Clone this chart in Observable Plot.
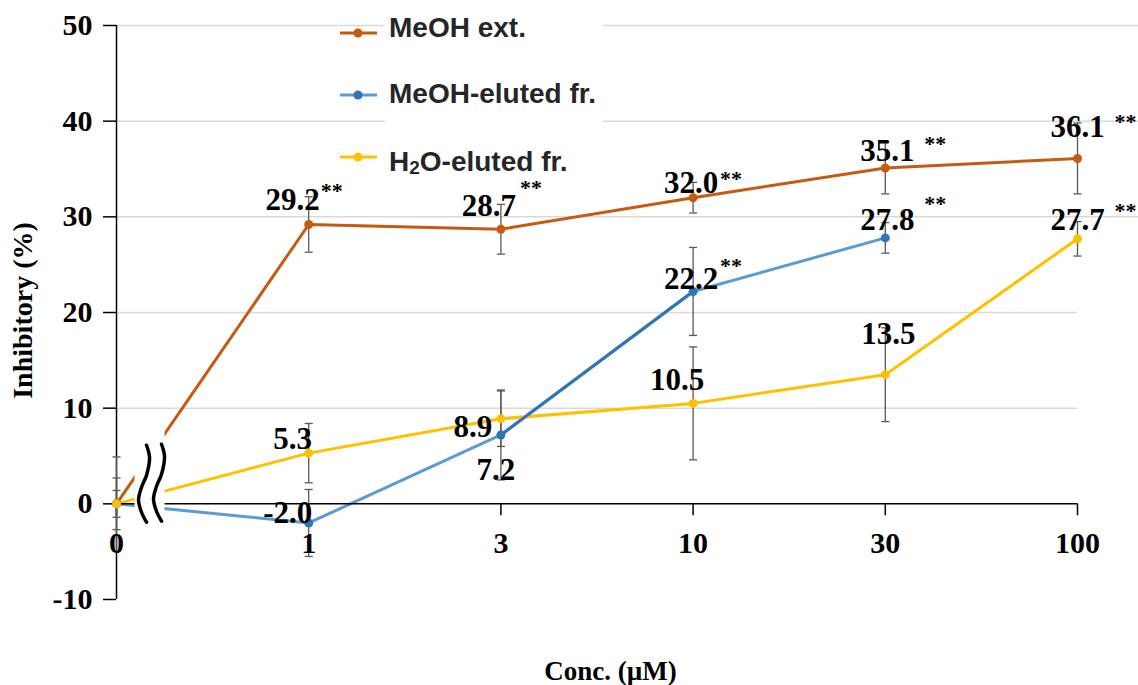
<!DOCTYPE html>
<html>
<head>
<meta charset="utf-8">
<script src="https://cdn.jsdelivr.net/npm/d3@7"></script>
<script src="https://cdn.jsdelivr.net/npm/@observablehq/plot@0.6"></script>
<style>
  body { margin: 0; background: #fff; }
  #wrap { position: relative; width: 1138px; height: 685px; overflow: hidden; background: #fff; }
  #wrap > svg { position: absolute; left: 0; top: 0; }
</style>
</head>
<body>
<div id="wrap"></div>
<script>
// ---------------- data ----------------
const concLabels = ["0", "1", "3", "10", "30", "100"];
const yTicks = [-10, 0, 10, 20, 30, 40, 50];
const seriesNames = ["MeOH ext.", "MeOH-eluted fr.", "H2O-eluted fr."];

const meohExt     = [0, 29.2, 28.7, 32.0, 35.1, 36.1];
const meohExtSD   = [4.9, 2.9, 2.6, 1.6, 2.7, 3.7];
const meohExtSig  = [false, true, true, true, true, true];

const meohElut    = [0, -2.0, 7.2, 22.2, 27.8];
const meohElutSD  = [1.4, 3.5, 4.7, 4.6, 1.6];
const meohElutSig = [false, false, false, true, true];

const h2oElut     = [0, 5.3, 8.9, 10.5, 13.5, 27.7];
const h2oElutSD   = [2.7, 3.1, 2.9, 5.9, 4.9, 1.8];
const h2oElutSig  = [false, false, false, false, false, true];

// ---------------- styles / label placement ----------------
const colors = {
  "MeOH ext.":       {line: "#C55A11", dot: "#C55A11"},
  "MeOH-eluted fr.": {line: "#5B9BD5", dot: "#2E75B6"},
  "H2O-eluted fr.":  {line: "#FFC000", dot: "#FFC000"}
};
const valueOffsets = {
  "MeOH ext.":       [null, [-16, -24], [-12, -23], [-2, -15], [2, -17], [0, -31]],
  "MeOH-eluted fr.": [null, [-21, -10], [-5, 35], [-2, -12], [2, -18]],
  "H2O-eluted fr.":  [null, [-16, -14], [-28, 8], [-16, -23], [3, -41], [0, -19]]
};
const starOffsets = {
  "MeOH ext.":       [null, [23, -34], [30, -41], [38, -19], [50, -24], [48, -37]],
  "MeOH-eluted fr.": [null, null, null, [38, -26], [50, -34]],
  "H2O-eluted fr.":  [null, null, null, null, null, [48, -28]]
};
const breakAt = {x: 0.19, y: 2.1};

// ---------------- build rows ----------------
const seriesData = [
  [seriesNames[0], meohExt, meohExtSD, meohExtSig],
  [seriesNames[1], meohElut, meohElutSD, meohElutSig],
  [seriesNames[2], h2oElut, h2oElutSD, h2oElutSig]
];
const rows = [];
for (const [series, vals, sds, sigs] of seriesData) {
  vals.forEach((v, i) => rows.push({series, i, value: v, sd: sds[i], sig: sigs[i]}));
}
const bySeries = s => rows.filter(d => d.series === s);

const serif = "'Liberation Serif', 'Times New Roman', serif";
const capHalf = 0.021;

// break symbol mark (drawn through the scales)
function breakMark(index, scales) {
  const cx = scales.x(breakAt.x), cy = scales.y(breakAt.y);
  const g = d3.create("svg:g");
  g.append("rect")
    .attr("x", cx - 18).attr("y", cy - 56)
    .attr("width", 30).attr("height", 100)
    .attr("fill", "white");
  const s1 = [[-6, -38], [-3, -26], [-6, -8], [-11, 4], [-14, 17], [-11, 29], [-6, 39]];
  const line = d3.line().curve(d3.curveCatmullRom);
  for (const off of [0, 15]) {
    g.append("path")
      .attr("d", line(s1.map(([dx, dy]) => [cx + dx + off, cy + dy - off / 15])))
      .attr("fill", "none").attr("stroke", "black")
      .attr("stroke-width", 3.5).attr("stroke-linecap", "round");
  }
  return g.node();
}

const marks = [
  // gridlines
  Plot.ruleY([30, 40, 50], {stroke: "#d9d9d9", strokeWidth: 1.5}),
  Plot.ruleY([10, 20], {x1: 0, x2: 5, stroke: "#d9d9d9", strokeWidth: 1.5}),
  // y axis
  Plot.axisY({ticks: yTicks, tickSize: 13, tickPadding: 11, tickFormat: d => String(d),
              fontSize: 30, fontWeight: "bold", fontFamily: serif, label: null,
              stroke: "black", strokeWidth: 1.5, fill: "black"}),
  Plot.ruleX([0], {stroke: "black", strokeWidth: 1.5}),
];

// series lines
for (const s of seriesNames) {
  marks.push(Plot.line(bySeries(s), {x: "i", y: "value", stroke: colors[s].line, strokeWidth: 3}));
}
// darker blue segment 3 -> 10
marks.push(Plot.line(bySeries(seriesNames[1]).filter(d => d.i === 2 || d.i === 3),
  {x: "i", y: "value", stroke: "#2E75B6", strokeWidth: 3}));

// zero line + x ticks
marks.push(Plot.ruleY([0], {x1: 0, x2: 5, stroke: "black", strokeWidth: 1.5}));
marks.push(Plot.ruleX(concLabels.map((d, i) => i), {x: d => d, y1: 0, y2: -1.25, stroke: "black", strokeWidth: 1.5}));

// axis break
marks.push(breakMark);

// error bars
marks.push(Plot.ruleX(rows, {x: "i", y1: d => d.value - d.sd, y2: d => d.value + d.sd, stroke: "#595959", strokeWidth: 1.3}));
marks.push(Plot.link(rows, {x1: d => d.i - capHalf, x2: d => d.i + capHalf, y1: d => d.value + d.sd, y2: d => d.value + d.sd, stroke: "#595959", strokeWidth: 1.3}));
marks.push(Plot.link(rows, {x1: d => d.i - capHalf, x2: d => d.i + capHalf, y1: d => d.value - d.sd, y2: d => d.value - d.sd, stroke: "#595959", strokeWidth: 1.3}));

// dots
for (const s of seriesNames) {
  marks.push(Plot.dot(bySeries(s), {x: "i", y: "value", r: 4.5, fill: colors[s].dot}));
}

// value labels and significance stars
for (const d of rows) {
  const vo = valueOffsets[d.series][d.i];
  if (vo) {
    marks.push(Plot.text([d], {x: "i", y: "value", text: r => r.value.toFixed(1),
      dx: vo[0], dy: vo[1], fontSize: 31, fontWeight: "bold", fontFamily: serif,
      fill: "black", lineAnchor: "middle"}));
  }
  const so = starOffsets[d.series][d.i];
  if (d.sig && so) {
    marks.push(Plot.text([d], {x: "i", y: "value", text: () => "**",
      dx: so[0], dy: so[1], fontSize: 22, fontWeight: "bold", fontFamily: serif,
      fill: "black", lineAnchor: "middle"}));
  }
}

// x tick labels
marks.push(Plot.text(concLabels, {x: (d, i) => i, y: () => 0, text: d => d, dy: 40,
  fontSize: 30, fontWeight: "bold", fontFamily: serif, fill: "black", lineAnchor: "middle"}));

// axis titles
marks.push(Plot.text(["Inhibitory (%)"], {frameAnchor: "left", textAnchor: "middle", dx: -93, dy: -2, rotate: -90,
  fontSize: 28, fontWeight: "bold", fontFamily: serif, fill: "black", lineAnchor: "middle"}));
marks.push(Plot.text(["Conc. (\u00B5M)"], {frameAnchor: "bottom", textAnchor: "middle", dx: -17, dy: 72,
  fontSize: 27, fontWeight: "bold", fontFamily: serif, fill: "black", lineAnchor: "middle"}));

const chart = Plot.plot({
  width: 1138,
  height: 685,
  marginLeft: 116,
  marginRight: 0,
  marginTop: 25,
  marginBottom: 86,
  x: {type: "linear", domain: [0, 1022 / 192.2], axis: null},
  y: {domain: [-10, 50], axis: null},
  style: {fontFamily: serif, background: "white", color: "black", overflow: "visible"},
  marks
});

const wrap = document.getElementById("wrap");
wrap.appendChild(chart);

// ---------------- legend (overlay) ----------------
const legendRows = [
  {name: seriesNames[0], y: 33, base: 37},
  {name: seriesNames[1], y: 95, base: 103},
  {name: seriesNames[2], y: 157, base: 171}
];
const lg = d3.create("svg").attr("width", 1138).attr("height", 685)
  .style("position", "absolute").style("left", "0").style("top", "0");
lg.append("rect").attr("x", 385).attr("y", 0).attr("width", 218).attr("height", 172).attr("fill", "white");
for (const r of legendRows) {
  const c = colors[r.name];
  lg.append("line").attr("x1", 340).attr("x2", 377).attr("y1", r.y).attr("y2", r.y)
    .attr("stroke", c.line).attr("stroke-width", 3);
  lg.append("circle").attr("cx", 358).attr("cy", r.y).attr("r", 4.5).attr("fill", c.dot);
  const t = lg.append("text").attr("x", 389).attr("y", r.base)
    .attr("font-family", "'Liberation Sans', Arial, sans-serif")
    .attr("font-weight", "bold").attr("font-size", 28).attr("fill", "#262626");
  if (r.name.startsWith("H2O")) {
    t.append("tspan").text("H");
    t.append("tspan").attr("font-size", 19).attr("dy", 3).text("2");
    t.append("tspan").attr("dy", -3).text("O-eluted fr.");
  } else {
    t.text(r.name);
  }
}
wrap.appendChild(lg.node());
</script>
</body>
</html>
